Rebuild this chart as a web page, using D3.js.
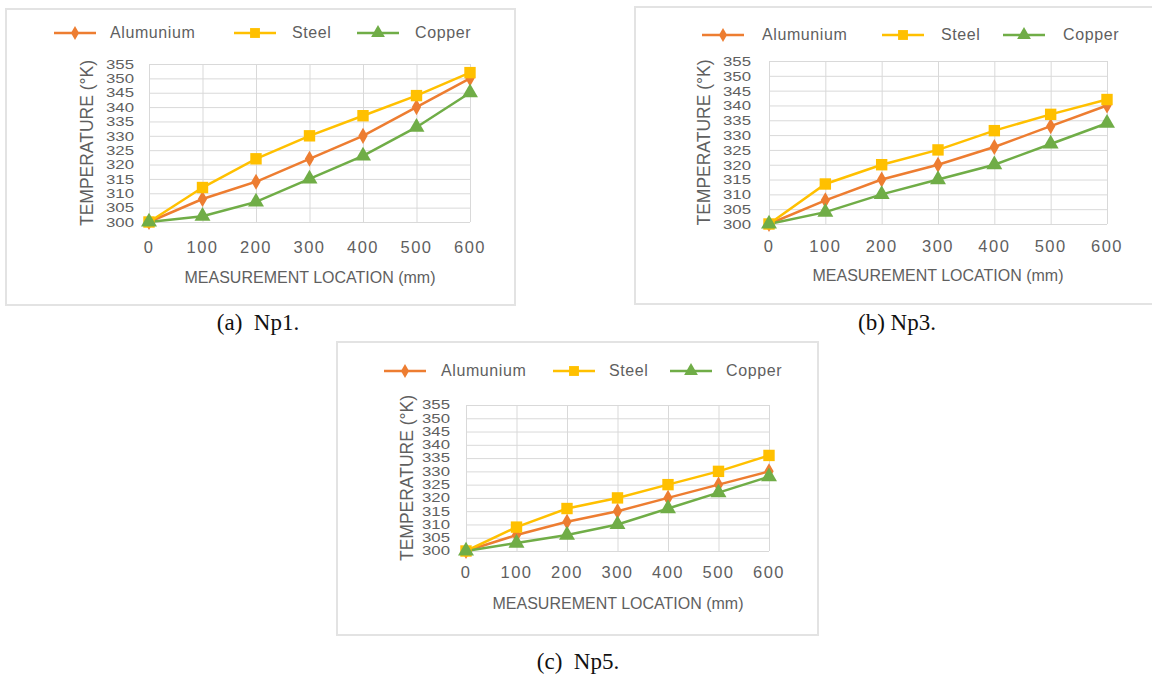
<!DOCTYPE html>
<html>
<head>
<meta charset="utf-8">
<script src="https://cdn.jsdelivr.net/npm/d3@7"></script>
<style>
  body { margin: 0; background: #fff; }
  svg { display: block; }
  text { font-family: "Liberation Sans", Arial, sans-serif; fill: #5f5f5f; }
  .caption { font-family: "Liberation Serif", "Times New Roman", serif; fill: #111; }
</style>
</head>
<body>
<div id="figure"></div>
<script>
// Data
var locations = [0, 100, 200, 300, 400, 500, 600];
var tempTicks = [300, 305, 310, 315, 320, 325, 330, 335, 340, 345, 350, 355];
var seriesNames = ["Alumunium", "Steel", "Copper"];

var np1Alumunium = [300, 308, 314, 322, 330, 340, 350];
var np1Steel = [300, 312, 322, 330, 337, 344, 352];
var np1Copper = [300, 302, 307, 315, 323, 333, 345];

var np3Alumunium = [300, 308, 315, 320, 326, 333, 340];
var np3Steel = [300, 313.5, 320, 325, 331.5, 337, 342];
var np3Copper = [300, 304, 310, 315, 320, 327, 334];

var np5Alumunium = [300, 306, 311, 315, 320, 325, 330];
var np5Steel = [300, 309, 316, 320, 325, 330, 336];
var np5Copper = [300, 303, 306, 310, 316, 322, 328];

var captions = ["(a)  Np1.", "(b) Np3.", "(c)  Np5."];

var colors = ["#ED7D31", "#FFC000", "#70AD47"];
var symbols = [d3.symbolDiamond, d3.symbolSquare, d3.symbolTriangle];
var symbolSizes = [75, 130, 110];

var svgWidth = 1152;
var svgHeight = 675;

var svg = d3.select("#figure")
  .append("svg")
  .attr("width", svgWidth)
  .attr("height", svgHeight);

// layout of each panel (pixels)
var panels = [
  {
    series: [np1Alumunium, np1Steel, np1Copper],
    caption: captions[0],
    frame: { x: 6, y: 9, w: 509, h: 296 },
    plot: { left: 149, right: 470, top: 64, bottom: 222 },
    yLabelX: 134, yTitleX: 87,
    xLabelY: 253, xTitleY: 283, xTitleX: 310,
    legendY: 33, legendLines: [54, 234, 357], legendTexts: [110, 292, 415],
    captionX: 258, captionY: 330
  },
  {
    series: [np3Alumunium, np3Steel, np3Copper],
    caption: captions[1],
    frame: { x: 635, y: 7, w: 530, h: 297 },
    plot: { left: 769, right: 1107, top: 61, bottom: 224 },
    yLabelX: 751, yTitleX: 704,
    xLabelY: 252, xTitleY: 281, xTitleX: 938,
    legendY: 35, legendLines: [702, 882, 1003], legendTexts: [762, 941, 1063],
    captionX: 897, captionY: 330
  },
  {
    series: [np5Alumunium, np5Steel, np5Copper],
    caption: captions[2],
    frame: { x: 337, y: 342, w: 481, h: 293 },
    plot: { left: 466, right: 769, top: 405, bottom: 551 },
    yLabelX: 450, yTitleX: 407,
    xLabelY: 578, xTitleY: 609, xTitleX: 618,
    legendY: 371, legendLines: [384, 553, 670], legendTexts: [441, 609, 726],
    captionX: 578, captionY: 669
  }
];

panels.forEach(function(p) {
  var g = svg.append("g");

  // outer chart border
  g.append("rect")
    .attr("x", p.frame.x)
    .attr("y", p.frame.y)
    .attr("width", p.frame.w)
    .attr("height", p.frame.h)
    .attr("fill", "#fff")
    .attr("stroke", "#e3e3e3")
    .attr("stroke-width", 2);

  var xScale = d3.scaleLinear()
    .domain([0, 600])
    .range([p.plot.left, p.plot.right]);

  var yScale = d3.scaleLinear()
    .domain([300, 355])
    .range([p.plot.bottom, p.plot.top]);

  var plotW = p.plot.right - p.plot.left;
  var plotH = p.plot.bottom - p.plot.top;

  // grid lines
  g.append("g")
    .attr("transform", `translate(${p.plot.left},0)`)
    .call(d3.axisLeft(yScale).tickValues(tempTicks).tickSize(-plotW).tickFormat(""))
    .call(s => s.select(".domain").remove())
    .selectAll("line").attr("stroke", "#d9d9d9");

  g.append("g")
    .attr("transform", `translate(0,${p.plot.bottom})`)
    .call(d3.axisBottom(xScale).tickValues(locations).tickSize(-plotH).tickFormat(""))
    .call(s => s.select(".domain").remove())
    .selectAll("line").attr("stroke", "#d9d9d9");

  // y tick labels, squeezed into the 5-degree step like the original
  var step = yScale(300) - yScale(305);
  var labelSize = Math.min(16, step * 0.92);
  g.append("g")
    .selectAll("text")
    .data(tempTicks)
    .enter()
    .append("text")
    .attr("x", p.yLabelX)
    .attr("y", d => yScale(d) + labelSize * 0.36)
    .attr("text-anchor", "end")
    .attr("font-size", labelSize)
    .attr("textLength", 28)
    .attr("lengthAdjust", "spacingAndGlyphs")
    .text(d => d);

  // x tick labels
  g.append("g")
    .selectAll("text")
    .data(locations)
    .enter()
    .append("text")
    .attr("x", d => xScale(d))
    .attr("y", p.xLabelY)
    .attr("text-anchor", "middle")
    .attr("font-size", 16.5)
    .attr("letter-spacing", 1.5)
    .text(d => d);

  // axis titles
  g.append("text")
    .attr("x", p.xTitleX)
    .attr("y", p.xTitleY)
    .attr("text-anchor", "middle")
    .attr("font-size", 16)
    .text("MEASUREMENT LOCATION (mm)");

  g.append("text")
    .attr("transform", `translate(${p.yTitleX},${(p.plot.top + p.plot.bottom) / 2}) rotate(-90)`)
    .attr("text-anchor", "middle")
    .attr("dy", "0.35em")
    .attr("font-size", 17.5)
    .text("TEMPERATURE (°K)");

  // lines + markers
  var line = d3.line()
    .x((d, i) => xScale(locations[i]))
    .y(d => yScale(d));

  p.series.forEach(function(values, k) {
    g.append("path")
      .datum(values)
      .attr("fill", "none")
      .attr("stroke", colors[k])
      .attr("stroke-width", 2.5)
      .attr("d", line);
  });

  p.series.forEach(function(values, k) {
    g.append("g")
      .selectAll("path")
      .data(values)
      .enter()
      .append("path")
      .attr("transform", (d, i) => `translate(${xScale(locations[i])},${yScale(d)})`)
      .attr("d", d3.symbol().type(symbols[k]).size(symbolSizes[k]))
      .attr("fill", colors[k]);
  });

  // legend
  seriesNames.forEach(function(name, k) {
    var lx = p.legendLines[k];
    g.append("line")
      .attr("x1", lx).attr("x2", lx + 42)
      .attr("y1", p.legendY).attr("y2", p.legendY)
      .attr("stroke", colors[k])
      .attr("stroke-width", 2.5);
    g.append("path")
      .attr("transform", `translate(${lx + 21},${p.legendY})`)
      .attr("d", d3.symbol().type(symbols[k]).size(symbolSizes[k] * 0.75))
      .attr("fill", colors[k]);
    g.append("text")
      .attr("x", p.legendTexts[k])
      .attr("y", p.legendY + 5)
      .attr("font-size", 16)
      .attr("letter-spacing", 0.6)
      .text(name);
  });

  // caption under the chart
  svg.append("text")
    .attr("class", "caption")
    .attr("x", p.captionX)
    .attr("y", p.captionY)
    .attr("text-anchor", "middle")
    .attr("font-size", 23)
    .style("white-space", "pre")
    .text(p.caption);
});
</script>
</body>
</html>
